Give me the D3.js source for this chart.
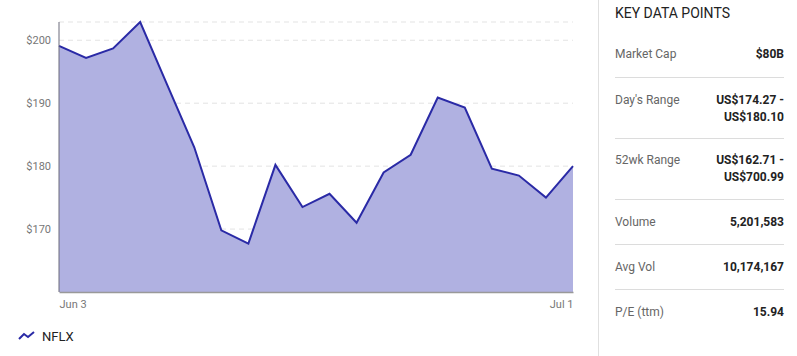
<!DOCTYPE html>
<html>
<script src='https://d3js.org/d3.v7.min.js'></script>
<style>
  body { margin: 0; background: #fff; font-family: Roboto, sans-serif; }
  .tick text { font-family: Roboto, sans-serif; }
</style>
<body onload='init()'>
<svg width=797 height=356></svg>
<script>
var dates = ['Jun 3','Jun 6','Jun 7','Jun 8','Jun 9','Jun 10','Jun 13','Jun 14','Jun 15','Jun 16',
             'Jun 17','Jun 21','Jun 22','Jun 23','Jun 24','Jun 27','Jun 28','Jun 29','Jun 30','Jul 1'];
var prices = [199.1, 197.2, 198.7, 202.9, 192.9, 183.0, 169.8, 167.7, 180.2, 173.5,
              175.6, 171.0, 179.0, 181.8, 190.9, 189.3, 179.6, 178.5, 175.0, 180.0];
var yTicks = [170, 180, 190, 200];
var xTickLabels = ['Jun 3', 'Jul 1'];
var seriesName = 'NFLX';
var statLabels = ['Market Cap', "Day's Range", '52wk Range', 'Volume', 'Avg Vol', 'P/E (ttm)'];
var statValues = [['$80B'], ['US$174.27 -', 'US$180.10'], ['US$162.71 -', 'US$700.99'],
                  ['5,201,583'], ['10,174,167'], ['15.94']];

function init() {
  var svg = d3.select('svg');
  var left = 59, right = 573, top = 22, bottom = 292;

  var xs = d3.scalePoint().domain(dates).range([left, right]);
  var ys = d3.scaleLinear().domain([160, d3.max(prices)]).range([bottom, top]);

  // gridlines
  svg.append('g')
    .selectAll('line')
    .data(yTicks.concat([d3.max(prices)]))
    .enter().append('line')
      .attr('x1', left).attr('x2', right)
      .attr('y1', function(d){return ys(d);})
      .attr('y2', function(d){return ys(d);})
      .attr('stroke', '#e3e3e3')
      .attr('stroke-dasharray', '5,4');

  var area = d3.area()
    .x(function(d, i){return xs(dates[i]);})
    .y0(ys(160))
    .y1(function(d){return ys(d);});
  var line = d3.line()
    .x(function(d, i){return xs(dates[i]);})
    .y(function(d){return ys(d);});

  svg.append('path').datum(prices)
    .attr('d', area)
    .attr('fill', '#b0b1e1');
  svg.append('path').datum(prices)
    .attr('d', line)
    .attr('fill', 'none')
    .attr('stroke', '#2a2aa6')
    .attr('stroke-width', 2)
    .attr('stroke-linejoin', 'miter');

  // y axis
  var ya = svg.append('g')
    .attr('transform', 'translate(' + left + ',0)')
    .call(d3.axisLeft(ys).tickValues(yTicks).tickFormat(function(d){return '$' + d;}).tickSize(0).tickPadding(8));
  ya.select('.domain').attr('stroke', '#6b6b7b').attr('d', 'M0,' + top + 'V' + bottom);
  ya.selectAll('text').attr('fill', '#777').style('font-size', '11px');

  // x axis
  var xa = svg.append('g')
    .attr('transform', 'translate(0,' + bottom + ')')
    .call(d3.axisBottom(xs).tickValues(xTickLabels).tickSize(0).tickPadding(8));
  xa.select('.domain').attr('stroke', '#999').attr('stroke-width', 1.5);
  xa.selectAll('text').attr('fill', '#777').style('font-size', '11px')
    .attr('text-anchor', function(d, i){return i == 0 ? 'start' : 'end';});

  // legend
  var lg = svg.append('g');
  lg.append('polyline')
    .attr('points', '19,339 24,334 28,337 34,332')
    .attr('fill', 'none').attr('stroke', '#2a2aa6').attr('stroke-width', 2);
  lg.append('text').attr('x', 42).attr('y', 336).attr('dy', '0.35em')
    .style('font-size', '13px').attr('fill', '#222').text(seriesName);

  // key data panel
  var p = svg.append('g');
  p.append('line').attr('x1', 598.5).attr('x2', 598.5).attr('y1', 0).attr('y2', 356)
    .attr('stroke', '#e0e0e0');
  p.append('text').attr('x', 615).attr('y', 13).attr('dy', '0.35em')
    .style('font-size', '14px').attr('fill', '#222').text('KEY DATA POINTS');

  var rowY = [54, 100, 160, 221.7, 266.7, 311.7];
  var sepY = [77.5, 138.5, 199.5, 244.5, 289.5];
  p.selectAll('.sep').data(sepY).enter().append('line')
    .attr('x1', 615).attr('x2', 784)
    .attr('y1', function(d){return d;}).attr('y2', function(d){return d;})
    .attr('stroke', '#dcdcdc');
  statLabels.forEach(function(lab, i) {
    p.append('text').attr('x', 615).attr('y', rowY[i]).attr('dy', '0.35em')
      .style('font-size', '12px').attr('fill', '#666').text(lab);
    statValues[i].forEach(function(v, j) {
      p.append('text').attr('x', 784).attr('y', rowY[i] + j * 16.5).attr('dy', '0.35em')
        .attr('text-anchor', 'end').style('font-size', '12px').style('font-weight', 'bold')
        .attr('fill', '#222').text(v);
    });
  });
}
</script>
</body>
</html>
